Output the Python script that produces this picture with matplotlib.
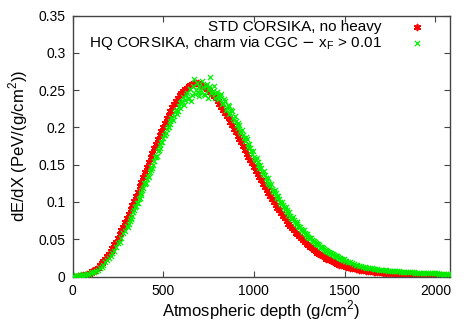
import numpy as np
import matplotlib
matplotlib.use("Agg")
from matplotlib import pyplot as plt

# depth grid of the profiles, g/cm^2
depth = np.arange(0, 2090, 10)
# second set of HQ points, shifted half a bin
depth_b = np.arange(305, 1500, 10)

std_dedx = [
    0.000, 0.000, 0.000, 0.001, 0.001, 0.001, 0.002, 0.002, 0.003, 0.004,
    0.005, 0.007, 0.008, 0.010, 0.012, 0.015, 0.018, 0.021, 0.024, 0.027,
    0.030, 0.034, 0.038, 0.043, 0.047, 0.052, 0.057, 0.062, 0.067, 0.073,
    0.078, 0.084, 0.090, 0.096, 0.102, 0.108, 0.114, 0.121, 0.127, 0.134,
    0.140, 0.147, 0.153, 0.160, 0.166, 0.172, 0.178, 0.184, 0.190, 0.195,
    0.201, 0.206, 0.212, 0.217, 0.222, 0.227, 0.231, 0.235, 0.239, 0.243,
    0.246, 0.249, 0.251, 0.253, 0.255, 0.257, 0.258, 0.259, 0.259, 0.259,
    0.258, 0.257, 0.256, 0.254, 0.252, 0.250, 0.248, 0.245, 0.242, 0.239,
    0.236, 0.232, 0.228, 0.224, 0.220, 0.216, 0.212, 0.207, 0.203, 0.198,
    0.194, 0.189, 0.184, 0.180, 0.175, 0.170, 0.165, 0.161, 0.156, 0.152,
    0.147, 0.142, 0.138, 0.133, 0.129, 0.124, 0.120, 0.116, 0.112, 0.108,
    0.104, 0.100, 0.096, 0.092, 0.089, 0.085, 0.081, 0.078, 0.074, 0.071,
    0.068, 0.065, 0.062, 0.059, 0.057, 0.054, 0.052, 0.049, 0.047, 0.044,
    0.042, 0.040, 0.038, 0.036, 0.034, 0.032, 0.030, 0.029, 0.027, 0.026,
    0.024, 0.023, 0.022, 0.021, 0.019, 0.018, 0.017, 0.016, 0.016, 0.015,
    0.014, 0.013, 0.013, 0.012, 0.012, 0.011, 0.010, 0.010, 0.009, 0.009,
    0.0085, 0.0082, 0.0078, 0.0075, 0.0071, 0.0068, 0.0065, 0.0063, 0.0060, 0.0058,
    0.0055, 0.0053, 0.0051, 0.0049, 0.0047, 0.0045, 0.0043, 0.0041, 0.0040, 0.0038,
    0.0036, 0.0035, 0.0033, 0.0032, 0.0030, 0.0029, 0.0028, 0.0027, 0.0026, 0.0025,
    0.0024, 0.0023, 0.0022, 0.0021, 0.0021, 0.0020, 0.0019, 0.0018, 0.0018, 0.0017,
    0.0016, 0.0016, 0.0015, 0.0015, 0.0014, 0.0013, 0.0013, 0.0012, 0.0012,
]

hq_dedx = [
    0.001, 0.001, 0.002, 0.001, 0.002, 0.002, 0.003, 0.002, 0.004, 0.004,
    0.005, 0.006, 0.006, 0.008, 0.009, 0.012, 0.013, 0.016, 0.019, 0.022,
    0.025, 0.028, 0.031, 0.034, 0.039, 0.045, 0.047, 0.052, 0.058, 0.061,
    0.068, 0.071, 0.077, 0.081, 0.089, 0.095, 0.098, 0.106, 0.110, 0.119,
    0.124, 0.131, 0.133, 0.143, 0.146, 0.155, 0.160, 0.168, 0.172, 0.181,
    0.186, 0.190, 0.198, 0.200, 0.208, 0.213, 0.216, 0.224, 0.222, 0.233,
    0.234, 0.241, 0.237, 0.246, 0.240, 0.252, 0.244, 0.265, 0.250, 0.247,
    0.256, 0.248, 0.254, 0.243, 0.258, 0.252, 0.268, 0.247, 0.255, 0.246,
    0.243, 0.238, 0.245, 0.233, 0.236, 0.226, 0.229, 0.219, 0.222, 0.210,
    0.208, 0.199, 0.203, 0.192, 0.190, 0.182, 0.184, 0.174, 0.172, 0.164,
    0.161, 0.156, 0.153, 0.146, 0.145, 0.137, 0.136, 0.128, 0.126, 0.121,
    0.118, 0.113, 0.112, 0.105, 0.104, 0.097, 0.096, 0.090, 0.089, 0.083,
    0.081, 0.077, 0.076, 0.071, 0.070, 0.066, 0.064, 0.060, 0.059, 0.055,
    0.053, 0.052, 0.049, 0.048, 0.045, 0.043, 0.042, 0.039, 0.038, 0.036,
    0.034, 0.033, 0.032, 0.030, 0.029, 0.027, 0.027, 0.025, 0.024, 0.022,
    0.021, 0.021, 0.019, 0.019, 0.018, 0.017, 0.016, 0.016, 0.014, 0.014,
    0.013, 0.013, 0.012, 0.012, 0.011, 0.011, 0.010, 0.010, 0.0095, 0.0092,
    0.0090, 0.0088, 0.0085, 0.0083, 0.0080, 0.0078, 0.0076, 0.0074, 0.0072, 0.0070,
    0.0068, 0.0067, 0.0065, 0.0063, 0.0062, 0.0060, 0.0059, 0.0057, 0.0056, 0.0054,
    0.0053, 0.0052, 0.0050, 0.0049, 0.0048, 0.0047, 0.0046, 0.0045, 0.0044, 0.0043,
    0.0042, 0.0041, 0.0040, 0.0040, 0.0039, 0.0038, 0.0037, 0.0037, 0.0036,
]

hq_dedx_b = [
    0.066, 0.075, 0.079, 0.086, 0.093, 0.099, 0.104, 0.112, 0.116, 0.125,
    0.126, 0.135, 0.140, 0.147, 0.150, 0.160, 0.162, 0.170, 0.176, 0.180,
    0.190, 0.192, 0.201, 0.204, 0.212, 0.210, 0.221, 0.218, 0.229, 0.226,
    0.236, 0.230, 0.244, 0.238, 0.252, 0.236, 0.255, 0.245, 0.260, 0.242,
    0.250, 0.262, 0.245, 0.256, 0.240, 0.254, 0.246, 0.249, 0.240, 0.248,
    0.240, 0.242, 0.231, 0.238, 0.224, 0.230, 0.218, 0.224, 0.212, 0.215,
    0.203, 0.206, 0.195, 0.196, 0.186, 0.187, 0.178, 0.178, 0.168, 0.168,
    0.158, 0.159, 0.149, 0.150, 0.140, 0.141, 0.132, 0.132, 0.124, 0.124,
    0.115, 0.116, 0.108, 0.108, 0.100, 0.100, 0.093, 0.093, 0.086, 0.086,
    0.079, 0.080, 0.073, 0.073, 0.068, 0.067, 0.062, 0.062, 0.057, 0.057,
    0.052, 0.052, 0.048, 0.047, 0.044, 0.044, 0.040, 0.040, 0.037, 0.036,
    0.034, 0.033, 0.031, 0.030, 0.028, 0.028, 0.026, 0.025, 0.024, 0.023,
]

xticks = [0, 500, 1000, 1500, 2000]
yticks = [0, 0.05, 0.1, 0.15, 0.2, 0.25, 0.3, 0.35]
ytick_labels = ["0", "0.05", "0.1", "0.15", "0.2", "0.25", "0.3", "0.35"]

plt.rcParams['font.family'] = ['Liberation Sans', 'DejaVu Sans']

fig = plt.figure(figsize=(4.74, 3.32), dpi=100)
ax = fig.add_axes([0.153, 0.167, 0.796, 0.786])

ax.scatter(depth, std_dedx, marker=(6, 2, 0), s=18, color='#ff0000',
           linewidths=1.2, label='STD CORSIKA, no heavy', zorder=2)
ax.scatter(depth, hq_dedx, marker='x', s=14, color='#00f000',
           linewidths=0.9, zorder=3,
           label=r'HQ CORSIKA, charm via CGC $-$ x$_\mathregular{F}$ > 0.01')
ax.scatter(depth_b, hq_dedx_b, marker='x', s=14, color='#00f000',
           linewidths=0.9, zorder=3)

ax.set_xlim(0, 2080)
ax.set_ylim(0, 0.35)
ax.set_xticks(xticks)
ax.set_yticks(yticks)
ax.set_yticklabels(ytick_labels)
ax.tick_params(direction='in', top=True, right=True, length=4, labelsize=10,
               pad=5, color='#444444')
for s in ax.spines.values():
    s.set_color('#444444')
    s.set_linewidth(1.0)

ax.set_xlabel(r'Atmospheric depth (g/cm$^\mathregular{2}$)', fontsize=12, labelpad=1)
ax.set_ylabel(r'dE/dX (PeV/(g/cm$^\mathregular{2}$))', fontsize=12, labelpad=6)

ax.legend(loc='upper right', bbox_to_anchor=(0.944, 0.985), frameon=False,
          markerfirst=False, fontsize=11, handletextpad=1.6, borderaxespad=0.0,
          labelspacing=0.0, handlelength=1.5, borderpad=0.0)

fig.savefig('out.png', dpi=100)
